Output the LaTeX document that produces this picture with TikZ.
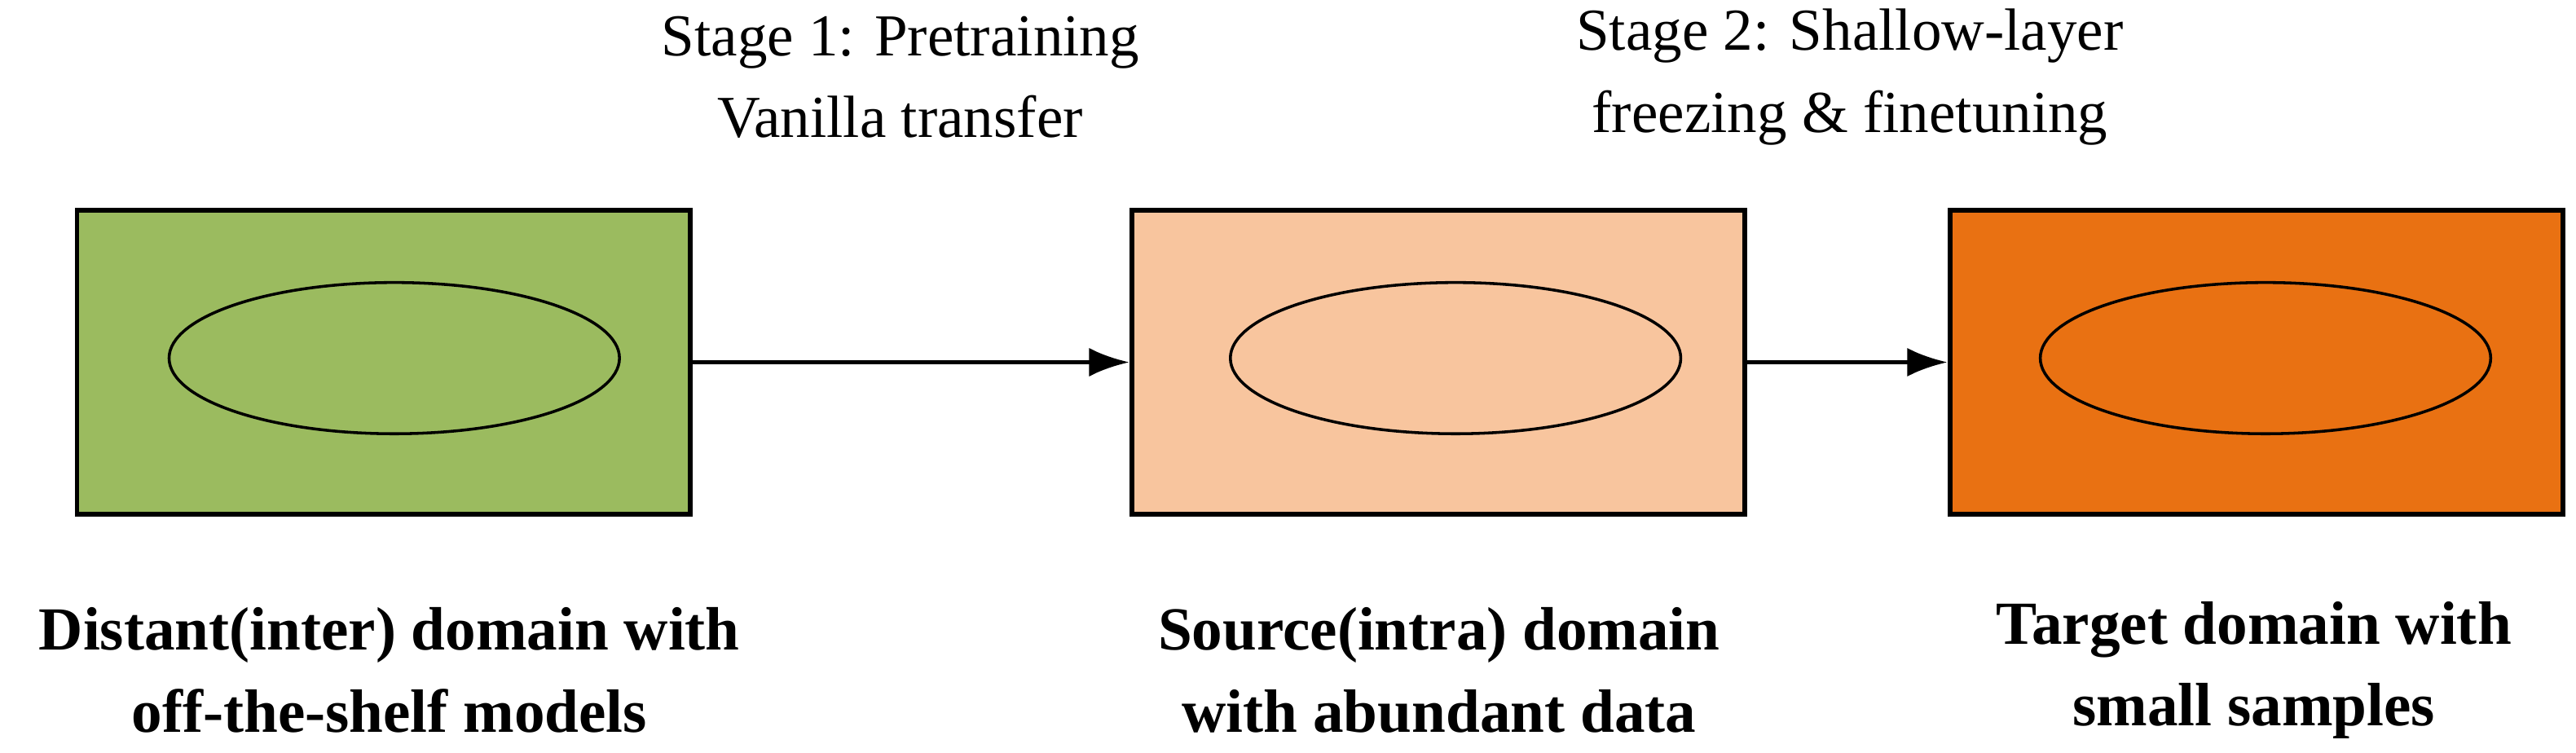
\documentclass[tikz,border=0pt]{standalone}
\usepackage{fontspec}
\setmainfont{Liberation Serif}
\usetikzlibrary{arrows.meta,shapes.geometric}
\definecolor{cgreen}{HTML}{9BBB5F}
\definecolor{cpeach}{HTML}{F8C59E}
\definecolor{corange}{HTML}{E97112}
\begin{document}
\begin{tikzpicture}[x=0.01cm,y=-0.01cm,
  dom/.style={draw,line width=0.8pt,minimum width=3.73cm,minimum height=1.85cm,inner sep=0},
  ell/.style={draw,ellipse,line width=0.5pt,minimum width=2.74cm,minimum height=0.92cm,inner sep=0},
  lab/.style={align=center,font=\fontsize{10.3}{14.2}\selectfont},
  blab/.style={align=center,font=\bfseries\fontsize{10.6}{14.2}\selectfont},
  arr/.style={line width=0.8pt,-{Latex[length=7pt,width=5pt]}}]
\useasboundingbox (0,0) rectangle (1568,458);
\node[dom,fill=cgreen] (b1) at (233.5,220.5) {};
\node[dom,fill=cpeach] (b2) at (875.5,220.5) {};
\node[dom,fill=corange] (b3) at (1373.5,220.5) {};
\node[ell] (e1) at (240,218) {};
\node[ell] (e2) at (886,218) {};
\node[ell] (e3) at (1379,218) {};
\draw[arr] (b1.east) -- (b2.west);
\draw[arr] (b2.east) -- (b3.west);
\node[lab] (t1) at (548,47) {Stage 1: Pretraining\\Vanilla transfer};
\node[lab] (t2) at (1126,47) {Stage 2: Shallow-layer\\freezing \& finetuning};
\node[blab] (l1) at (237,408) {Distant(inter) domain with\\off-the-shelf models};
\node[blab] (l2) at (876,408) {Source(intra) domain\\with abundant data};
\node[blab] (l3) at (1372,408) {Target domain with\\small samples};
\end{tikzpicture}
\end{document}
